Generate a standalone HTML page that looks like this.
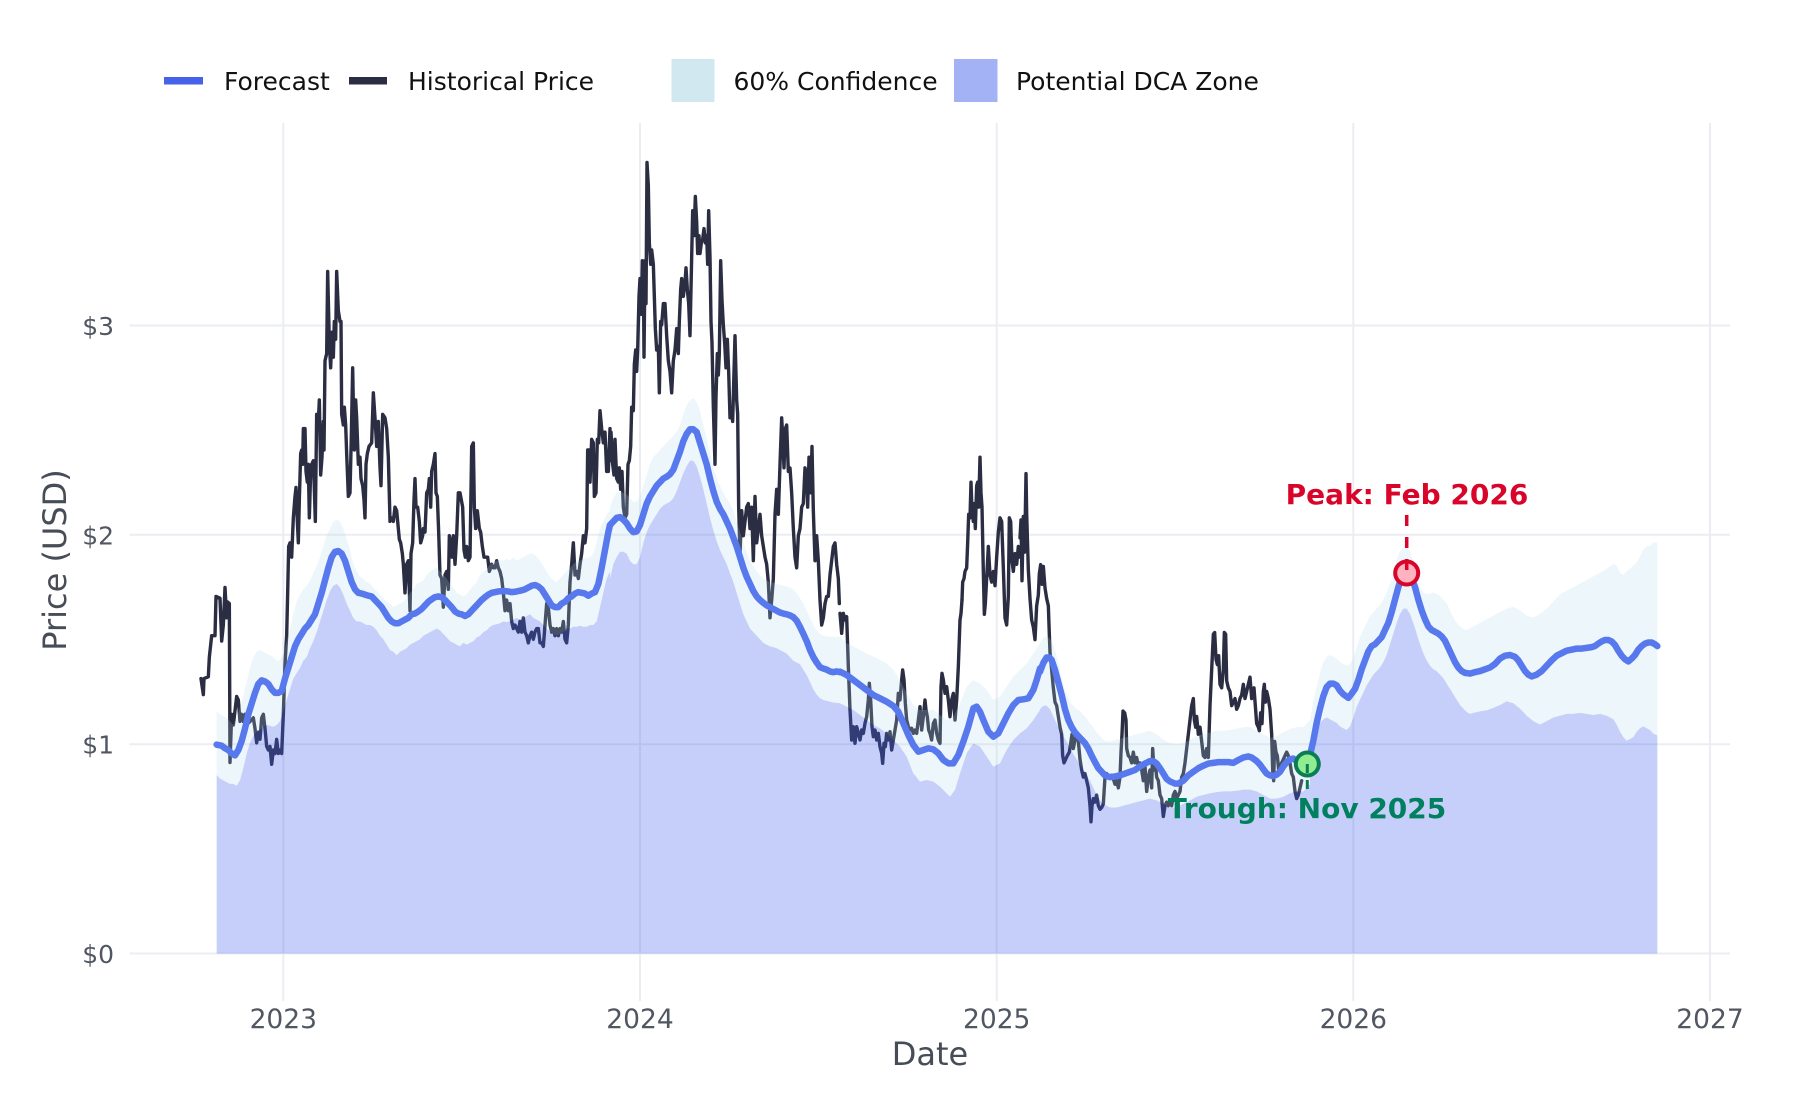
<!DOCTYPE html>
<html>
<head>
<meta charset="utf-8">
<style>
html,body{margin:0;padding:0;background:#fff;}
svg{display:block;}
text{font-family:"DejaVu Sans","Liberation Sans",sans-serif;}
</style>
</head>
<body>
<svg width="1800" height="1100" viewBox="0 0 1800 1100" xmlns="http://www.w3.org/2000/svg">
<rect x="0" y="0" width="1800" height="1100" fill="#ffffff"/>

<!-- gridlines -->
<g stroke="#ebedf3" stroke-width="2" fill="none">
  <line x1="129.5" y1="953.5" x2="1730" y2="953.5"/>
  <line x1="129.5" y1="744.2" x2="1730" y2="744.2"/>
  <line x1="129.5" y1="534.8" x2="1730" y2="534.8"/>
  <line x1="129.5" y1="325.5" x2="1730" y2="325.5"/>
  <line x1="283.3" y1="123" x2="283.3" y2="1001"/>
  <line x1="640" y1="123" x2="640" y2="1001"/>
  <line x1="996.7" y1="123" x2="996.7" y2="1001"/>
  <line x1="1353.3" y1="123" x2="1353.3" y2="1001"/>
  <line x1="1710" y1="123" x2="1710" y2="1001"/>
</g>

<!-- historical price -->
<g fill="none" stroke="#2b2d42" stroke-width="3.4" stroke-linejoin="round" stroke-linecap="round">
<g transform="translate(190 250) scale(0.3333333 0.3571429)">
<polyline vector-effect="non-scaling-stroke" points="33,1200 40,1245 42,1200 55,1195 58,1140 65,1080 75,1080 78,970 90,975 95,1095 100,1050 105,945 110,1030 112,985 118,990 120,1435 125,1300 130,1330 135,1290 140,1250 145,1260 150,1320 155,1300 160,1320 165,1300 170,1330 180,1320 190,1310 195,1340 200,1380 205,1350 210,1370 215,1310 220,1300 225,1340 230,1390 235,1400 240,1390 245,1440 250,1400 255,1410 260,1370 265,1410 270,1400 275,1410 280,1300 285,1160 290,1080 293,960 296,830 300,820 305,860 310,750 315,690 318,665 322,760 325,820 328,700 332,570 335,560 338,600 340,500 345,500 348,620 352,650 355,600 358,750 362,620 365,600 370,590 372,640 376,760 380,460 385,480 388,420 392,630 396,580 400,480 402,560 405,310 410,290 413,60 418,260 422,330 426,230 430,300 433,200 437,250 440,60 445,170 450,200 453,200 455,460 460,490 463,440 467,490 470,570 475,690 480,680 484,520 488,330 490,430 493,560 497,420 500,470 505,600 510,580 513,640 518,660 522,700 525,750 528,600 532,570 537,550 545,540 550,400 555,470 560,550 565,480 570,610 573,660 578,460 585,470 590,500 595,580 600,760 605,750 610,760 615,720 620,730 625,780 628,810 632,820 637,850 640,880 645,960 650,880 655,870 660,1010 663,850 668,820 672,700 675,640 678,720 683,720 688,760 692,820 698,800 700,780 705,790 710,680 715,670 718,640 722,720 725,620 730,600 735,570 738,680 742,690 746,790 750,910 755,920 760,1000 765,910 770,900 775,950 778,800 782,820 786,860 790,800 795,880 800,800 805,680 810,680 818,720 822,840 826,860 830,830 835,870 840,860 845,550 850,540 853,720 857,780 862,730 868,780 872,790 877,830 882,860 888,860 893,860 898,900 905,880 910,890 915,890 920,870 925,890 930,900 935,920 940,960 945,1010 950,980 955,1010 960,990 965,1040 970,1060 975,1050 980,1060 985,1070 990,1040 995,1070 1000,1030 1005,1070 1010,1080 1015,1100 1020,1080 1025,1070 1030,1090 1035,1070 1040,1060 1045,1060 1050,1100 1055,1100 1060,1110 1065,1050 1070,990 1075,1000 1080,1050 1085,1070 1090,1060 1095,1080 1100,1060 1105,1080 1110,1060 1115,1070 1120,1040 1125,1090 1130,1100 1135,1050 1140,930 1145,880 1150,820 1155,910 1160,900 1165,920 1170,880 1175,850 1180,800 1185,820 1190,780 1193,560 1198,560 1200,650 1205,530 1210,540 1213,690 1218,680 1222,530 1226,540 1230,450 1235,500 1240,540 1245,510 1250,620 1255,620 1260,500"/>
</g>
<g transform="translate(600 150) scale(0.3333333 0.3571429)">
<polyline vector-effect="non-scaling-stroke" points="30,870 33,790 38,880 42,910 45,810 50,920 55,930 58,890 62,950 66,900 70,1000 75,1030 80,1020 84,880 88,870 92,830 95,720 100,730 103,600 107,560 110,620 113,560 117,410 120,360 124,460 127,310 130,320 132,580 135,310 138,430 141,35 145,100 148,260 152,320 155,280 160,320 163,410 166,500 170,560 175,550 178,680 182,480 185,490 190,430 195,430 200,520 205,590 210,620 215,680 220,590 225,560 230,500 235,570 238,480 242,390 245,360 250,410 255,370 258,330 262,390 266,430 270,520 275,300 278,170 282,240 286,130 290,200 293,290 297,240 300,290 304,260 308,250 312,220 316,260 320,240 323,320 326,170 330,300 333,480 336,540 340,720 345,880 348,690 352,570 355,630 358,570 362,310 366,420 370,490 374,540 378,610 382,530 386,620 390,750 394,720 398,760 402,620 405,520 410,700 413,740 416,1000 420,1130 425,1010 430,1080 435,1040 440,1000 445,990 450,1060 455,1000 460,1150 465,970 470,1100 475,1060 480,1020 485,1080 490,1110 495,1140 500,1160 505,1210 510,1310 515,1260 520,1200 525,1020 530,950 535,1020 540,880 545,750 548,800 552,890 556,780 560,770 565,900 570,890 575,960 580,1060 585,1140 590,1170 595,1080 600,1060 605,1000 610,990 615,890 620,910 623,1000 627,860 632,960 636,830 640,1010 645,1150 650,1080 655,1150 660,1260 665,1330 670,1310 675,1270 680,1250 685,1250 690,1190 695,1150 700,1110 705,1100 710,1160 715,1200 718,1270"/>
<polyline vector-effect="non-scaling-stroke" points="1086,1260 1088,1210 1092,1200 1095,1180 1100,1170 1103,1100 1106,1020 1110,1030 1113,930 1116,1010 1120,1040 1123,990 1126,1060 1130,940 1133,930 1136,1000 1140,860 1143,960 1146,1000 1150,1180 1153,1300 1156,1270 1160,1200 1165,1110 1170,1190 1175,1210 1180,1180 1185,1220 1190,1140 1195,1070 1200,1030 1205,1040 1210,1170 1215,1310 1220,1330 1225,1250 1228,1030 1232,1040 1236,1150 1240,1180 1245,1130 1250,1160 1255,1110 1260,1140"/>
</g>
<g transform="translate(840 600) scale(0.3333333 0.3333333)">
<polyline vector-effect="non-scaling-stroke" points="0,40 5,100 10,40 15,60 20,50 25,200 30,330 35,420 40,380 45,430 50,380 55,400 60,420 65,390 70,400 75,370 80,350 85,300 88,250 92,300 96,380 100,410 105,390 110,420 115,400 120,440 125,460 128,490 132,430 136,440 140,400 145,420 150,395 155,450 160,420 165,390 170,360 175,280 180,300 185,240 188,210 192,240 196,310 200,360 205,380 210,390 215,385 220,400 225,390 230,400 235,360 240,320 245,390 250,350 255,300 258,330 262,350 266,390 270,400 275,420 280,370 285,360 290,400 295,420 300,430 303,260 306,220 310,240 315,280 320,260 325,300 330,350 335,300 340,280 345,360 350,300 355,200 360,60 363,40 366,0"/>
</g>
<g transform="translate(1010 420) scale(0.3333333 0.3571429)">
<polyline vector-effect="non-scaling-stroke" points="30,330 33,280 36,450 40,270 44,370 48,150 50,260 55,420 60,500 65,560 70,580 75,615 80,520 85,490 88,430 92,405 96,460 100,410 105,470 110,500 115,520 118,600 120,650 125,700 130,750 135,790 140,800 145,830 150,860 155,880 158,940 162,960 167,950 172,940 178,930 183,900 186,880 190,920 195,895 200,880 205,900 210,950 215,980 220,1000 225,990 230,1010 235,1030 240,1080 243,1125 246,1080 250,1060 255,1070 260,1050 265,1080 270,1090 275,1085 280,1075 285,1000 290,990 295,1000 300,1000 305,995 310,1005 315,1020 320,1010 325,1030 330,1000 333,930 336,880 339,815 344,820 348,840 350,920 355,940 360,945 365,960 370,930 375,960 380,945 385,970 390,960 395,980 400,1010 405,970 410,1040 415,1000 420,980 425,1030 428,920 432,980 436,960 440,1000 445,1010 450,1050 455,1060 460,1110 465,1080 470,1070 475,1080 480,1070 485,1080 490,1050 495,1040 500,1060 505,1050 510,1040 515,1000 520,990 525,960 530,920 535,880 540,840 545,800 550,780 553,840 557,860 560,830 565,880 570,860 575,900 580,940 585,945 590,920 595,945 600,800 605,700 610,600 614,595 618,670 622,685 626,660 630,740 635,750 640,700 643,595 647,600 650,730 655,750 660,760 665,800 670,790 675,780 680,810 685,800 690,780 695,770 700,740 705,780 710,760 715,740 720,720 725,780 728,760 732,750 736,800 740,850 745,860 748,870 752,820 756,850 760,760 763,740 766,790 770,760 775,780 780,810 785,880 788,980 791,1010 794,900 798,930 802,940 806,980 810,970 815,960 820,950 825,940 830,930 835,940 840,960 845,990 850,1000 855,1040 860,1060 865,1050 870,1030 875,1010"/>
</g>
</g>

<!-- 60% confidence band -->
<g fill="rgba(173,216,230,0.22)" fill-rule="evenodd" stroke="none">
<path transform="translate(190 250) scale(0.3333333 0.3571429)" d="M80,1290 L90,1300 100,1305 110,1310 120,1320 130,1330 140,1310 150,1280 160,1250 170,1210 180,1170 190,1140 200,1125 210,1120 220,1125 230,1130 240,1135 250,1140 260,1150 270,1148 280,1130 290,1095 300,1060 310,1020 320,985 330,965 340,950 350,940 360,925 370,905 380,885 390,860 400,830 410,800 420,780 430,760 440,755 450,760 460,780 470,810 480,840 490,880 500,900 510,915 520,920 530,930 540,935 550,945 560,955 570,965 580,975 590,985 600,990 610,1000 620,995 630,990 640,985 650,975 660,960 670,950 680,935 690,930 700,925 710,910 720,900 730,895 740,890 750,900 760,910 770,920 780,935 790,945 800,960 810,965 820,970 830,965 840,950 850,940 860,930 870,910 880,900 890,895 900,880 910,875 920,870 930,868 940,870 950,865 960,870 970,860 980,870 990,865 1000,860 1010,855 1020,850 1030,850 1040,858 1050,870 1060,885 1070,900 1080,915 1090,925 1100,930 1110,920 1120,910 1130,900 1140,890 1150,880 1160,870 1170,870 1180,865 1190,862 1200,860 1210,850 1220,820 1230,780 1240,760 1250,740 1260,730 1260,1970 80,1970 Z M80,1470 L90,1480 100,1485 110,1490 120,1495 130,1495 140,1500 150,1485 160,1450 170,1410 180,1380 190,1360 200,1350 210,1345 220,1335 230,1330 240,1332 250,1335 260,1330 270,1320 280,1290 290,1260 300,1230 310,1200 320,1185 330,1170 340,1150 350,1140 360,1115 370,1095 380,1070 390,1040 400,1010 410,980 420,955 430,940 440,935 450,945 460,965 470,990 480,1010 490,1030 500,1040 510,1040 520,1045 530,1050 540,1050 550,1055 560,1065 570,1080 580,1090 590,1105 600,1120 610,1125 620,1135 630,1125 640,1120 650,1115 660,1105 670,1100 680,1095 690,1090 700,1080 710,1075 720,1070 730,1065 740,1060 750,1065 760,1075 770,1085 780,1095 790,1100 800,1105 810,1110 820,1100 830,1105 840,1100 850,1095 860,1085 870,1080 880,1070 890,1065 900,1055 910,1050 920,1048 930,1045 940,1040 950,1042 960,1040 970,1035 980,1030 990,1035 1000,1030 1010,1025 1020,1020 1030,1030 1040,1035 1050,1040 1060,1050 1070,1060 1080,1070 1090,1075 1100,1080 1110,1075 1120,1070 1130,1060 1140,1060 1150,1055 1160,1055 1170,1052 1180,1055 1190,1055 1200,1050 1210,1050 1220,1040 1230,1000 1240,960 1250,920 1260,900 1260,1970 80,1970 Z"/>
<path transform="translate(600 150) scale(0.3333333 0.3571429)" d="M30,1000 L40,975 50,960 60,955 70,960 80,965 90,975 100,985 110,985 120,970 130,940 140,910 150,880 160,860 170,850 180,840 190,830 200,820 210,810 220,800 230,790 240,770 250,740 260,715 270,700 280,695 290,705 300,730 310,770 320,810 330,850 340,890 350,920 360,940 370,960 380,975 390,990 400,1010 410,1040 420,1070 430,1100 440,1125 450,1150 460,1165 470,1180 480,1190 490,1200 500,1205 510,1210 520,1212 530,1215 540,1218 550,1220 560,1222 570,1225 580,1230 590,1240 600,1255 610,1270 620,1290 630,1310 640,1330 650,1345 660,1355 670,1360 680,1362 690,1363 700,1363 710,1363 720,1363 720,2250 30,2250 Z M30,1200 L40,1160 50,1140 60,1125 70,1125 80,1130 90,1150 100,1160 110,1160 120,1140 130,1100 140,1070 150,1050 160,1035 170,1020 180,1005 190,995 200,990 210,985 220,975 230,955 240,930 250,905 260,885 270,870 280,870 290,885 300,915 310,950 320,990 330,1030 340,1065 350,1095 360,1120 370,1140 380,1160 390,1185 400,1210 410,1240 420,1270 430,1300 440,1320 450,1340 460,1350 470,1360 480,1370 490,1380 500,1385 510,1390 520,1392 530,1395 540,1400 550,1405 560,1410 570,1420 580,1430 590,1435 600,1440 610,1455 620,1470 630,1490 640,1510 650,1525 660,1535 670,1540 680,1542 690,1545 700,1547 720,1549 720,2250 30,2250 Z"/>
<path transform="translate(840 600) scale(0.3333333 0.3333333)" d="M0,110 L20,130 40,140 60,150 80,160 100,170 120,180 140,190 160,210 180,240 200,280 220,315 240,330 260,330 280,330 300,345 320,360 340,350 360,310 380,260 400,240 420,250 440,270 460,300 480,290 500,260 520,230 540,210 560,190 580,160 600,130 600,1061 0,1061 Z M0,310 L20,320 40,330 60,345 80,360 100,375 120,385 140,400 160,420 180,440 200,470 220,520 240,545 260,540 280,545 300,560 320,580 330,590 345,570 360,520 380,460 400,430 420,440 440,470 460,500 480,490 500,450 520,420 540,400 560,385 580,360 600,330 600,1061 0,1061 Z"/>
<path transform="translate(1010 420) scale(0.3333333 0.3571429)" d="M90,625 L100,610 110,605 120,612 130,630 140,660 150,700 160,740 170,770 180,790 190,800 200,810 210,815 220,825 230,835 240,850 250,860 260,875 270,885 280,895 290,900 300,900 320,895 340,890 360,885 380,880 400,875 420,870 440,880 460,895 480,905 500,908 520,905 540,895 560,885 580,880 600,875 620,870 640,870 660,868 680,865 700,860 720,860 740,870 760,880 780,890 800,885 820,875 840,865 860,860 880,860 900,840 900,1494 90,1494 Z M90,810 L100,800 110,800 120,810 130,830 140,850 150,870 160,885 170,900 180,920 190,935 200,950 210,965 220,980 230,995 240,1010 250,1030 260,1050 270,1065 280,1075 290,1080 300,1085 320,1085 340,1080 360,1075 380,1070 400,1065 420,1060 440,1065 460,1075 480,1085 500,1085 520,1075 540,1065 560,1055 580,1050 600,1045 620,1042 640,1040 660,1040 680,1038 700,1035 720,1035 740,1040 760,1050 780,1060 800,1060 820,1055 840,1045 860,1040 880,1040 900,1020 900,1494 90,1494 Z"/>
<path transform="translate(1300 380) scale(0.3333333 0.3571429)" d="M30,955 L40,900 50,860 60,820 70,790 80,775 90,770 100,775 110,780 120,790 130,795 140,800 150,795 160,780 170,750 180,720 190,700 200,680 210,660 220,650 230,640 240,630 250,615 260,595 270,570 280,540 290,505 300,480 310,470 320,465 330,480 340,510 350,550 360,580 370,595 380,600 390,598 400,595 410,600 420,605 430,615 440,625 450,645 460,665 470,680 480,690 490,698 500,700 510,695 520,690 540,680 560,670 580,660 600,650 620,640 640,635 660,645 680,660 700,665 720,655 740,640 760,620 780,600 800,590 820,580 840,570 860,560 880,550 900,540 920,528 940,515 950,520 960,540 970,545 980,535 990,528 1000,520 1010,510 1020,495 1030,475 1040,465 1050,465 1060,455 1072,455 1072,1606 30,1606 Z M30,1100 L40,1000 50,975 60,960 70,950 80,945 90,950 100,955 110,960 120,970 130,975 140,980 150,970 160,945 170,915 180,895 190,875 200,855 210,840 220,825 230,815 240,805 250,790 260,770 270,740 280,710 290,680 300,655 310,640 320,640 330,655 340,680 350,710 360,740 370,765 380,785 390,800 400,810 410,815 420,825 430,835 440,850 450,865 460,880 470,895 480,910 490,920 500,930 510,935 520,932 540,928 560,925 580,918 600,910 620,900 640,905 660,920 680,940 700,955 720,965 740,955 760,945 780,940 800,935 820,935 840,932 860,935 880,938 900,935 920,940 940,950 950,965 960,985 970,1000 980,1010 990,1005 1000,1000 1010,985 1020,975 1030,970 1040,975 1050,980 1060,990 1072,995 1072,1606 30,1606 Z"/>
</g>

<!-- Potential DCA zone -->
<g fill="rgba(67,97,238,0.3)" stroke="none">
<path transform="translate(190 250) scale(0.3333333 0.3571429)" d="M80,1470 L90,1480 100,1485 110,1490 120,1495 130,1495 140,1500 150,1485 160,1450 170,1410 180,1380 190,1360 200,1350 210,1345 220,1335 230,1330 240,1332 250,1335 260,1330 270,1320 280,1290 290,1260 300,1230 310,1200 320,1185 330,1170 340,1150 350,1140 360,1115 370,1095 380,1070 390,1040 400,1010 410,980 420,955 430,940 440,935 450,945 460,965 470,990 480,1010 490,1030 500,1040 510,1040 520,1045 530,1050 540,1050 550,1055 560,1065 570,1080 580,1090 590,1105 600,1120 610,1125 620,1135 630,1125 640,1120 650,1115 660,1105 670,1100 680,1095 690,1090 700,1080 710,1075 720,1070 730,1065 740,1060 750,1065 760,1075 770,1085 780,1095 790,1100 800,1105 810,1110 820,1100 830,1105 840,1100 850,1095 860,1085 870,1080 880,1070 890,1065 900,1055 910,1050 920,1048 930,1045 940,1040 950,1042 960,1040 970,1035 980,1030 990,1035 1000,1030 1010,1025 1020,1020 1030,1030 1040,1035 1050,1040 1060,1050 1070,1060 1080,1070 1090,1075 1100,1080 1110,1075 1120,1070 1130,1060 1140,1060 1150,1055 1160,1055 1170,1052 1180,1055 1190,1055 1200,1050 1210,1050 1220,1040 1230,1000 1240,960 1250,920 1260,900 1260,1970 80,1970 Z"/>
<path transform="translate(600 150) scale(0.3333333 0.3571429)" d="M30,1200 L40,1160 50,1140 60,1125 70,1125 80,1130 90,1150 100,1160 110,1160 120,1140 130,1100 140,1070 150,1050 160,1035 170,1020 180,1005 190,995 200,990 210,985 220,975 230,955 240,930 250,905 260,885 270,870 280,870 290,885 300,915 310,950 320,990 330,1030 340,1065 350,1095 360,1120 370,1140 380,1160 390,1185 400,1210 410,1240 420,1270 430,1300 440,1320 450,1340 460,1350 470,1360 480,1370 490,1380 500,1385 510,1390 520,1392 530,1395 540,1400 550,1405 560,1410 570,1420 580,1430 590,1435 600,1440 610,1455 620,1470 630,1490 640,1510 650,1525 660,1535 670,1540 680,1542 690,1545 700,1547 720,1549 720,2250 30,2250 Z"/>
<path transform="translate(840 600) scale(0.3333333 0.3333333)" d="M0,310 L20,320 40,330 60,345 80,360 100,375 120,385 140,400 160,420 180,440 200,470 220,520 240,545 260,540 280,545 300,560 320,580 330,590 345,570 360,520 380,460 400,430 420,440 440,470 460,500 480,490 500,450 520,420 540,400 560,385 580,360 600,330 600,1061 0,1061 Z"/>
<path transform="translate(1010 420) scale(0.3333333 0.3571429)" d="M90,810 L100,800 110,800 120,810 130,830 140,850 150,870 160,885 170,900 180,920 190,935 200,950 210,965 220,980 230,995 240,1010 250,1030 260,1050 270,1065 280,1075 290,1080 300,1085 320,1085 340,1080 360,1075 380,1070 400,1065 420,1060 440,1065 460,1075 480,1085 500,1085 520,1075 540,1065 560,1055 580,1050 600,1045 620,1042 640,1040 660,1040 680,1038 700,1035 720,1035 740,1040 760,1050 780,1060 800,1060 820,1055 840,1045 860,1040 880,1040 900,1020 900,1494 90,1494 Z"/>
<path transform="translate(1300 380) scale(0.3333333 0.3571429)" d="M30,1100 L40,1000 50,975 60,960 70,950 80,945 90,950 100,955 110,960 120,970 130,975 140,980 150,970 160,945 170,915 180,895 190,875 200,855 210,840 220,825 230,815 240,805 250,790 260,770 270,740 280,710 290,680 300,655 310,640 320,640 330,655 340,680 350,710 360,740 370,765 380,785 390,800 400,810 410,815 420,825 430,835 440,850 450,865 460,880 470,895 480,910 490,920 500,930 510,935 520,932 540,928 560,925 580,918 600,910 620,900 640,905 660,920 680,940 700,955 720,965 740,955 760,945 780,940 800,935 820,935 840,932 860,935 880,938 900,935 920,940 940,950 950,965 960,985 970,1000 980,1010 990,1005 1000,1000 1010,985 1020,975 1030,970 1040,975 1050,980 1060,990 1072,995 1072,1606 30,1606 Z"/>
</g>

<!-- forecast -->
<g fill="none" stroke="#5878ee" stroke-width="6.5" stroke-linejoin="round" stroke-linecap="round">
<g transform="translate(190 250) scale(0.3333333 0.3571429)">
<polyline vector-effect="non-scaling-stroke" points="80,1385 95,1388 105,1395 115,1400 125,1410 135,1415 145,1400 155,1375 165,1340 175,1300 185,1270 195,1240 205,1215 215,1205 225,1208 235,1215 245,1230 255,1240 265,1240 275,1235 285,1200 295,1170 305,1140 315,1110 325,1090 335,1075 345,1060 355,1050 365,1035 375,1020 385,990 395,960 405,925 415,890 425,860 435,845 445,843 455,850 465,870 475,900 485,930 495,950 505,960 515,962 525,965 535,968 545,970 555,980 565,990 575,1000 585,1015 595,1030 605,1040 615,1045 625,1045 635,1040 645,1035 655,1030 665,1020 675,1018 685,1012 695,1005 705,995 715,985 725,978 735,972 745,970 755,972 765,980 775,990 785,1000 795,1012 805,1018 815,1020 825,1025 835,1020 845,1010 855,1000 865,990 875,980 885,972 895,965 905,960 915,958 925,956 935,955 945,955 955,956 965,958 975,957 985,955 995,953 1005,950 1015,945 1025,940 1035,938 1045,942 1055,950 1065,965 1075,980 1085,995 1095,1000 1105,1000 1115,990 1125,985 1135,975 1145,970 1155,962 1165,958 1175,960 1185,962 1195,968 1205,962 1215,958 1225,935 1235,890 1245,840 1255,790 1260,770"/>
</g>
<g transform="translate(600 150) scale(0.3333333 0.3571429)">
<polyline vector-effect="non-scaling-stroke" points="30,1050 40,1040 50,1030 60,1028 70,1035 80,1045 90,1060 100,1070 110,1068 120,1050 130,1020 140,990 150,970 160,955 170,940 180,930 190,920 200,915 210,908 220,895 230,870 240,845 250,815 260,795 270,782 280,782 290,790 300,820 310,850 320,880 330,920 340,955 350,985 360,1005 370,1020 380,1040 390,1060 400,1085 410,1110 420,1140 430,1170 440,1195 450,1215 460,1235 470,1250 480,1260 490,1268 500,1275 510,1280 520,1285 530,1290 540,1295 550,1298 560,1300 570,1303 580,1308 590,1318 600,1335 610,1355 620,1375 630,1400 640,1420 650,1435 660,1448 670,1452 680,1455 690,1460 700,1462 710,1460 720,1462"/>
</g>
<g transform="translate(840 600) scale(0.3333333 0.3333333)">
<polyline vector-effect="non-scaling-stroke" points="0,215 20,225 40,240 60,255 80,270 100,285 120,295 140,305 160,318 175,335 190,370 205,405 220,435 235,455 250,450 265,445 280,448 295,460 310,480 325,490 340,490 355,465 370,425 385,380 400,325 410,320 420,335 430,360 445,395 460,410 475,400 490,370 505,340 520,315 535,300 550,298 565,295 580,270 590,240 600,205"/>
</g>
<g transform="translate(1010 420) scale(0.3333333 0.3571429)">
<polyline vector-effect="non-scaling-stroke" points="90,705 100,680 110,665 118,665 125,672 135,700 145,735 155,770 165,810 175,840 185,860 195,875 205,885 215,895 225,905 235,920 245,940 255,958 265,975 275,985 285,995 300,1000 315,998 330,995 345,990 360,985 375,980 390,970 405,962 420,955 430,955 440,962 450,975 460,990 470,1005 480,1012 495,1018 505,1018 520,1010 535,995 550,985 565,975 580,968 595,962 610,960 625,958 640,958 655,958 670,960 685,952 700,945 715,942 725,945 740,955 750,965 760,978 770,990 780,995 790,997 800,993 810,985 820,970 830,958 840,950 850,948 860,955 870,960 880,960 892,960 900,948"/>
</g>
<g transform="translate(1300 380) scale(0.3333333 0.3571429)">
<polyline vector-effect="non-scaling-stroke" points="30,1050 40,1010 50,960 60,920 70,885 80,860 90,850 100,850 110,855 120,870 130,880 145,890 155,878 165,865 175,840 185,810 195,785 205,760 215,745 225,740 235,730 245,720 255,700 265,680 275,650 285,615 295,580 305,550 320,535 335,555 345,580 355,615 365,645 375,670 385,690 395,700 405,705 415,710 425,718 435,730 445,750 455,770 465,790 475,805 485,815 495,820 510,822 525,818 540,815 555,810 570,805 585,795 600,780 615,772 630,770 645,775 655,785 665,800 675,815 685,825 695,830 710,825 725,815 740,800 755,785 770,772 785,765 800,758 815,755 830,752 845,752 860,750 875,748 885,745 895,738 905,732 915,728 925,728 935,732 945,742 955,758 965,772 975,782 985,788 995,780 1005,770 1015,755 1025,745 1035,738 1045,735 1055,735 1065,740 1072,745"/>
</g>
</g>

<!-- markers -->
<circle cx="1406.7" cy="573" r="11.5" fill="#ffb3c1" stroke="#d90429" stroke-width="4"/>
<line x1="1406.7" y1="515" x2="1406.7" y2="574" stroke="#d90429" stroke-width="3.5" stroke-dasharray="11,11"/>
<circle cx="1307.3" cy="764" r="11.5" fill="#90ee90" stroke="#0b7d56" stroke-width="4"/>
<line x1="1307.3" y1="764" x2="1307.3" y2="796" stroke="#0b7d56" stroke-width="3" stroke-dasharray="9,7"/>

<!-- annotations -->
<text x="1407" y="504" font-size="28" font-weight="bold" fill="#d90429" text-anchor="middle">Peak: Feb 2026</text>
<text x="1307" y="818" font-size="28" font-weight="bold" fill="#00805e" text-anchor="middle">Trough: Nov 2025</text>

<!-- y ticks -->
<g font-size="25" fill="#505662" text-anchor="end">
  <text x="114" y="335">$3</text>
  <text x="114" y="544.3">$2</text>
  <text x="114" y="753.7">$1</text>
  <text x="114" y="963">$0</text>
</g>
<!-- x ticks -->
<g font-size="26.5" fill="#505662" text-anchor="middle">
  <text x="283.3" y="1028">2023</text>
  <text x="640" y="1028">2024</text>
  <text x="996.7" y="1028">2025</text>
  <text x="1353.3" y="1028">2026</text>
  <text x="1710" y="1028">2027</text>
</g>
<text x="930" y="1065" font-size="32" fill="#474d57" text-anchor="middle">Date</text>
<text transform="translate(66 560) rotate(-90)" font-size="32" fill="#474d57" text-anchor="middle">Price (USD)</text>

<!-- legend -->
<rect x="164" y="77" width="39" height="7.5" fill="#4762ea"/>
<text x="224" y="90" font-size="25" fill="#111">Forecast</text>
<rect x="349" y="77" width="38" height="7.5" fill="#2b2d42"/>
<text x="408" y="90" font-size="25" fill="#111">Historical Price</text>
<rect x="671.5" y="59" width="43" height="43" fill="#d2e8f0"/>
<text x="733.5" y="90" font-size="25" fill="#111">60% Confidence</text>
<rect x="954" y="59" width="43.5" height="43" fill="#a3b1f5"/>
<text x="1016" y="90" font-size="25" fill="#111">Potential DCA Zone</text>
</svg>
</body>
</html>
